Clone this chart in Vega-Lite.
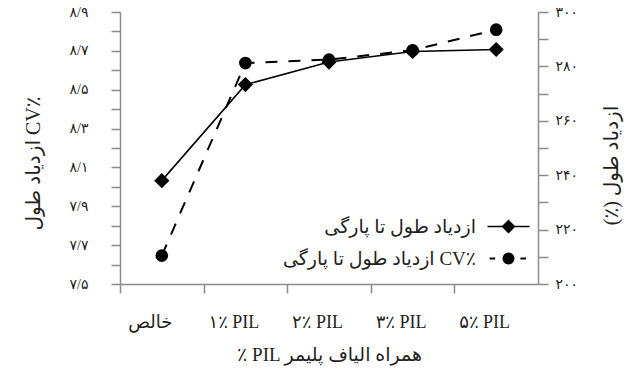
{
  "$schema": "https://vega.github.io/schema/vega-lite/v6.json",
  "width": 418,
  "height": 272,
  "autosize": {"type": "none"},
  "padding": {"left": 120, "top": 12, "right": 92, "bottom": 99},
  "background": "white",
  "config": {
    "view": {"stroke": null},
    "font": "Liberation Serif, DejaVu Sans",
    "axis": {
      "grid": false,
      "domainColor": "#8a8a8a",
      "tickColor": "#8a8a8a",
      "domainWidth": 1.5,
      "tickWidth": 1.5,
      "labelColor": "#231f20",
      "titleColor": "#231f20",
      "labelFont": "Liberation Serif, DejaVu Sans",
      "titleFont": "Liberation Serif, DejaVu Sans",
      "titleFontWeight": "normal"
    }
  },
  "data": {
    "values": [
      {"cat": "خالص", "series": "ازدیاد طول تا پارگی", "value": 238.0},
      {"cat": "۱٪ PIL", "series": "ازدیاد طول تا پارگی", "value": 273.3},
      {"cat": "۲٪ PIL", "series": "ازدیاد طول تا پارگی", "value": 281.6},
      {"cat": "۳٪ PIL", "series": "ازدیاد طول تا پارگی", "value": 285.5},
      {"cat": "۵٪ PIL", "series": "ازدیاد طول تا پارگی", "value": 286.2},
      {"cat": "خالص", "series": "ازدیاد طول تا پارگی CV٪", "value": 7.646},
      {"cat": "۱٪ PIL", "series": "ازدیاد طول تا پارگی CV٪", "value": 8.637},
      {"cat": "۲٪ PIL", "series": "ازدیاد طول تا پارگی CV٪", "value": 8.655},
      {"cat": "۳٪ PIL", "series": "ازدیاد طول تا پارگی CV٪", "value": 8.703},
      {"cat": "۵٪ PIL", "series": "ازدیاد طول تا پارگی CV٪", "value": 8.809}
    ]
  },
  "encoding": {
    "x": {
      "field": "cat",
      "type": "nominal",
      "sort": ["خالص", "۱٪ PIL", "۲٪ PIL", "۳٪ PIL", "۵٪ PIL"],
      "scale": {"type": "point", "padding": 0.5},
      "axis": {
        "title": "٪ PIL همراه الیاف پلیمر",
        "labelAngle": 0,
        "tickSize": 9,
        "tickOffset": -41.8,
        "labelOffset": 29.8,
        "labelPadding": 20,
        "labelFontSize": 18,
        "titleFontSize": 19,
        "titleY": 70,
        "titleBaseline": "middle"
      }
    }
  },
  "layer": [
    {
      "transform": [{"filter": {"field": "series", "equal": "ازدیاد طول تا پارگی CV٪"}}],
      "encoding": {
        "y": {
          "field": "value",
          "type": "quantitative",
          "scale": {"domain": [7.5, 8.9], "zero": false, "nice": false},
          "axis": {
            "orient": "left",
            "values": [7.5, 7.6, 7.7, 7.8, 7.9, 8.0, 8.1, 8.2, 8.3, 8.4, 8.5, 8.6, 8.7, 8.8, 8.9],
            "labelExpr": "(round(datum.value*10) - 75) % 2 == 0 ? replace(replace(replace(replace(replace(replace(replace(replace(replace(replace(replace(format(datum.value, '.1f'), '.', '/'), /0/g, '۰'), /1/g, '۱'), /2/g, '۲'), /3/g, '۳'), /4/g, '۴'), /5/g, '۵'), /6/g, '۶'), /7/g, '۷'), /8/g, '۸'), /9/g, '۹') : ''",
            "tickSize": 9,
            "labelPadding": 23,
            "labelFontSize": 14,
            "title": "ازدیاد طول CV٪",
            "titleFontSize": 20,
            "titleAngle": 270,
            "titleX": -87,
            "titleY": 151,
            "titleBaseline": "middle",
            "titleAlign": "center"
          }
        }
      },
      "layer": [
        {"mark": {"type": "line", "color": "black", "strokeWidth": 2, "strokeDash": [12, 11]}},
        {"mark": {"type": "point", "shape": "circle", "filled": true, "color": "black", "size": 160, "opacity": 1}}
      ]
    },
    {
      "transform": [{"filter": {"field": "series", "equal": "ازدیاد طول تا پارگی"}}],
      "encoding": {
        "y": {
          "field": "value",
          "type": "quantitative",
          "scale": {"domain": [200, 300], "zero": false, "nice": false},
          "axis": {
            "orient": "right",
            "values": [200, 210, 220, 230, 240, 250, 260, 270, 280, 290, 300],
            "labelExpr": "datum.value % 20 == 0 ? replace(replace(replace(replace(replace(replace(replace(replace(replace(replace(format(datum.value, 'd'), /0/g, '۰'), /1/g, '۱'), /2/g, '۲'), /3/g, '۳'), /4/g, '۴'), /5/g, '۵'), /6/g, '۶'), /7/g, '۷'), /8/g, '۸'), /9/g, '۹') : ''",
            "tickSize": 10,
            "labelPadding": 7,
            "labelFontSize": 14,
            "title": "(٪) ازدیاد طول",
            "titleFontSize": 20,
            "titleAngle": 270,
            "titleX": 73,
            "titleY": 153,
            "titleBaseline": "middle",
            "titleAlign": "center"
          }
        }
      },
      "layer": [
        {"mark": {"type": "line", "color": "black", "strokeWidth": 1.6}},
        {"mark": {"type": "point", "shape": "diamond", "filled": true, "color": "black", "size": 230, "opacity": 1}}
      ]
    },
    {
      "transform": [{"filter": "false"}],
      "mark": {"type": "point", "filled": true, "color": "black", "opacity": 1},
      "encoding": {
        "shape": {
          "field": "series",
          "type": "nominal",
          "scale": {
            "domain": ["ازدیاد طول تا پارگی", "ازدیاد طول تا پارگی CV٪"],
            "range": [
              "M-3,-0.11L3,-0.11L3,0.11L-3,0.11Z M-1,0L0,-1L1,0L0,1Z",
              "M-2.7,-0.13L-1.9,-0.13L-1.9,0.13L-2.7,0.13Z M1.7,-0.13L2.5,-0.13L2.5,0.13L1.7,0.13Z M0.85,0A0.85,0.85,0,1,1,-0.85,0A0.85,0.85,0,1,1,0.85,0Z"
            ]
          },
          "legend": {
            "title": null,
            "orient": "none",
            "legendX": 379,
            "legendY": 205,
            "direction": "vertical",
            "padding": 0,
            "labelAlign": "right",
            "labelOffset": -42,
            "labelLimit": 300,
            "labelFontSize": 19,
            "labelFont": "Liberation Serif, DejaVu Sans",
            "labelColor": "#231f20",
            "symbolSize": 196,
            "symbolStrokeWidth": 0,
            "symbolFillColor": "black",
            "symbolOpacity": 1,
            "rowPadding": 12
          }
        }
      }
    }
  ],
  "resolve": {"scale": {"y": "independent"}}
}
